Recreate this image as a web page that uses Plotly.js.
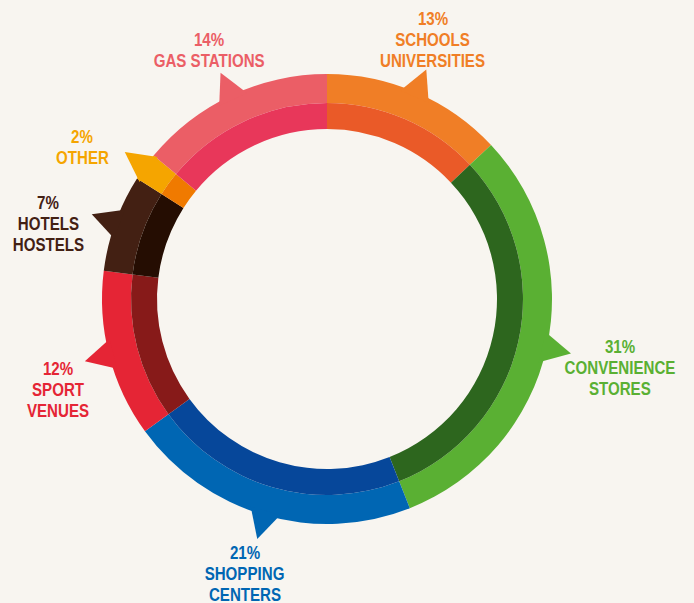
<!DOCTYPE html>
<html>
<head>
<meta charset="utf-8">
<script src="https://cdn.plot.ly/plotly-3.0.1.min.js"></script>
<style>
  html, body { margin: 0; padding: 0; background: #f8f5f0; }
  #chart { width: 694px; height: 603px; }
</style>
</head>
<body>
<div id="chart"></div>
<script>
// ---- data ----
const categories = ['Schools Universities', 'Convenience Stores', 'Shopping Centers', 'Sport Venues', 'Hotels Hostels', 'Other', 'Gas Stations'];
const shares = [13, 31, 21, 12, 7, 2, 14];
const percentLabels = ['13%', '31%', '21%', '12%', '7%', '2%', '14%'];
const nameLines = [
  ['SCHOOLS', 'UNIVERSITIES'],
  ['CONVENIENCE', 'STORES'],
  ['SHOPPING', 'CENTERS'],
  ['SPORT', 'VENUES'],
  ['HOTELS', 'HOSTELS'],
  ['OTHER'],
  ['GAS STATIONS']
];

// ---- styles / layout ----
const outerColors = ['#f07e26', '#5ab033', '#0066b3', '#e52535', '#432013', '#f5a500', '#eb5e66'];
const innerColors = ['#ea5a28', '#2d661e', '#06479a', '#871a19', '#250d02', '#f07a00', '#e8375a'];
const W = 694, H = 603;
const CX = 327, CY = 299;
const R_OUT = 225, R_MID = 196, R_IN = 170;
// label anchor: centre x, centre y of first line (pixels)
const labelPos = [[433, 19], [620, 347], [245, 553], [58, 369], [48, 203], [82, 137], [209, 40]];
const LINE = 21;
const FONT = 'Liberation Sans, Arial, sans-serif';
const SQUEEZE = 0.84;

const px = x => x / W;
const py = y => 1 - y / H;

function domainFor(r) {
  return {
    x: [px(CX - r), px(CX + r)],
    y: [py(CY + r), py(CY - r)]
  };
}

const outer = {
  type: 'pie', values: shares, labels: categories, sort: false,
  direction: 'clockwise', rotation: 0, hole: R_MID / R_OUT,
  domain: domainFor(R_OUT), textinfo: 'none', hoverinfo: 'label+percent',
  marker: { colors: outerColors, line: { width: 0 } }, showlegend: false
};
const inner = {
  type: 'pie', values: shares, labels: categories, sort: false,
  direction: 'clockwise', rotation: 0, hole: R_IN / R_MID,
  domain: domainFor(R_MID), textinfo: 'none', hoverinfo: 'label+percent',
  marker: { colors: innerColors, line: { width: 0 } }, showlegend: false
};

// tails (pointers) at each slice's middle angle, computed from the data
const total = shares.reduce((a, b) => a + b, 0);
const shapes = [];
const annotations = [];
let cum = 0;
function pt(r, deg) {
  const a = deg * Math.PI / 180;
  return [CX + r * Math.sin(a), CY - r * Math.cos(a)];
}
shares.forEach((v, i) => {
  const mid = (cum + v / 2) / total * 360;
  cum += v;
  const b1 = pt(R_OUT - 4, mid - 4);
  const b2 = pt(R_OUT - 4, mid + 4);
  const tip = pt(R_OUT + 25, mid);
  const path = `M ${px(b1[0])} ${py(b1[1])} L ${px(tip[0])} ${py(tip[1])} L ${px(b2[0])} ${py(b2[1])} Z`;
  shapes.push({ type: 'path', xref: 'paper', yref: 'paper', path: path,
    fillcolor: outerColors[i], line: { width: 0 }, layer: 'above' });

  const [lx, ly] = labelPos[i];
  annotations.push({ xref: 'paper', yref: 'paper', x: px(lx), y: py(ly),
    xanchor: 'center', yanchor: 'middle', showarrow: false,
    text: '<b>' + percentLabels[i] + '</b>',
    font: { family: FONT, size: 18, color: outerColors[i] } });
  nameLines[i].forEach((t, j) => {
    annotations.push({ xref: 'paper', yref: 'paper', x: px(lx), y: py(ly + LINE * (j + 1)),
      xanchor: 'center', yanchor: 'middle', showarrow: false,
      text: '<b>' + t + '</b>',
      font: { family: FONT, size: 18, color: outerColors[i] } });
  });
});

const layout = {
  width: W, height: H,
  margin: { l: 0, r: 0, t: 0, b: 0 },
  paper_bgcolor: '#f8f5f0', plot_bgcolor: '#f8f5f0',
  showlegend: false,
  shapes: shapes,
  annotations: annotations
};

Plotly.newPlot('chart', [outer, inner], layout, { displayModeBar: false, staticPlot: true }).then(() => {
  // condense the label lettering horizontally (like a narrow typeface)
  document.querySelectorAll('#chart .annotation-text').forEach(t => {
    const bb = t.getBBox();
    const c = bb.x + bb.width / 2;
    t.setAttribute('transform', `translate(${c},0) scale(${SQUEEZE},1) translate(${-c},0)`);
  });
});
</script>
</body>
</html>
